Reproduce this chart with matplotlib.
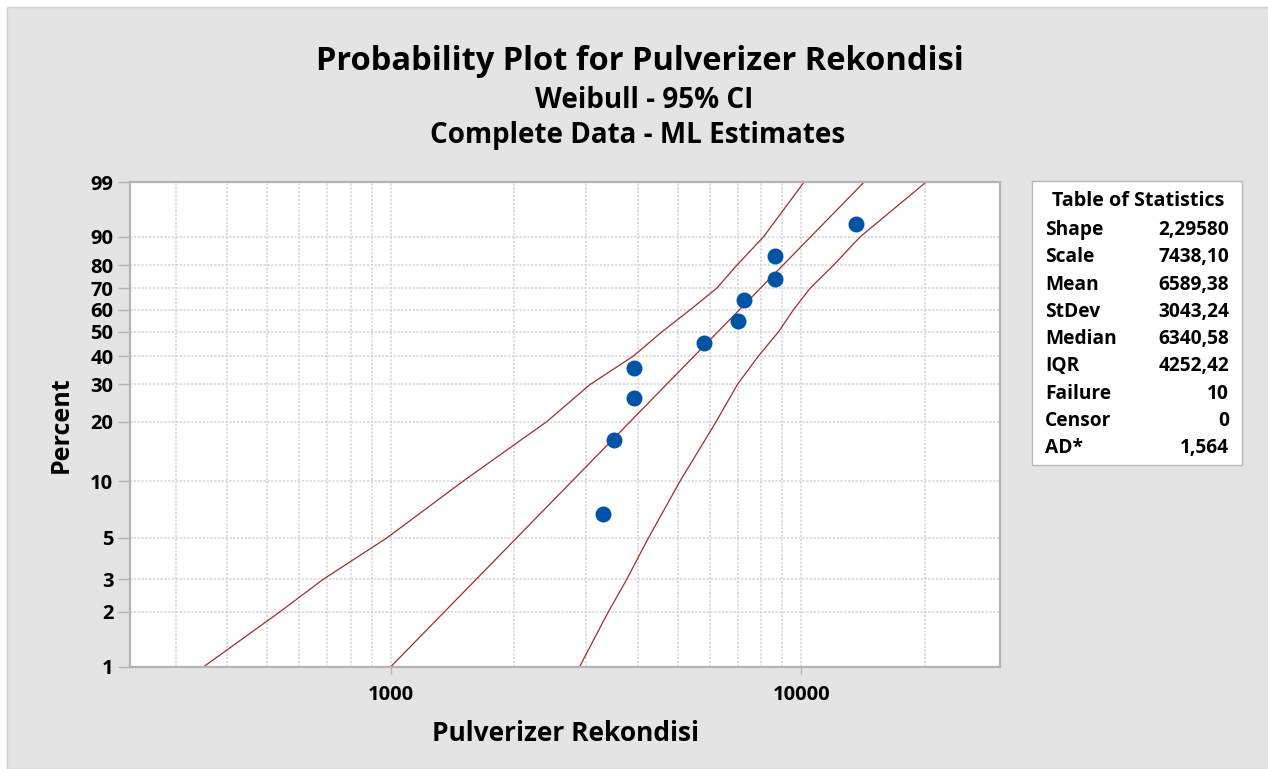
import numpy as np
import matplotlib
matplotlib.use("Agg")
import matplotlib.pyplot as plt
from matplotlib.patches import Rectangle
from matplotlib.ticker import FixedLocator, NullFormatter

# ──────────────────────────────────────────────
# Data
# ──────────────────────────────────────────────
# observed failures and their plotted percent (median ranks)
obs_x   = [3300, 3510, 3920, 3920, 5810, 7000, 7260, 8650, 8650, 13600]
obs_pct = [6.7, 16.3, 26.0, 35.6, 45.2, 54.8, 64.4, 74.0, 83.7, 93.3]

# fitted Weibull line (straight on this scale) - end points
fit_x   = [1000, 14240]
fit_pct = [1, 99]

# 95% confidence band, read at the percent grid lines
band_pct   = [1, 2, 3, 5, 10, 20, 30, 40, 50, 60, 70, 80, 90, 99]
band_left  = [350, 538, 686, 979, 1504, 2402, 3062, 3904, 4578, 5365,
              6232, 6972, 8096, 10170]
band_right = [2884, 3393, 3762, 4246, 5073, 6209, 6995, 7870, 8806, 9578,
              10517, 11988, 13921, 20160]

y_ticks   = [1, 2, 3, 5, 10, 20, 30, 40, 50, 60, 70, 80, 90, 99]
x_major   = [1000, 10000]
x_minor   = [300, 400, 500, 600, 700, 800, 900,
             2000, 3000, 4000, 5000, 6000, 7000, 8000, 9000, 20000]

stat_names  = ["Shape", "Scale", "Mean", "StDev", "Median", "IQR",
               "Failure", "Censor", "AD*"]
stat_values = ["2,29580", "7438,10", "6589,38", "3043,24", "6340,58",
               "4252,42", "10", "0", "1,564"]

# ──────────────────────────────────────────────
# Style
# ──────────────────────────────────────────────
BG      = "#e4e4e4"
LINE    = "#a52a2a"
DOT     = "#0054a6"
GRID    = "#d4d4d4"
SPINE   = "#b4b4b4"
plt.rcParams["font.family"] = ["Open Sans", "DejaVu Sans"]

W, H = 1268, 769


def weibull_fwd(p):
    p = np.clip(np.asarray(p, dtype=float), 1e-6, 100 - 1e-6)
    return np.log(-np.log(1 - p / 100.0))


def weibull_inv(z):
    return 100.0 * (1 - np.exp(-np.exp(np.asarray(z, dtype=float))))


fig = plt.figure(figsize=(W / 100, H / 100), dpi=100)
fig.patch.set_facecolor("white")
fig.patches.append(Rectangle((7 / W, 0), 1, 1 - 7 / H, transform=fig.transFigure,
                             facecolor=BG, edgecolor="#d0d0d0", linewidth=1,
                             zorder=-10))

ax = fig.add_axes([130 / W, 1 - 667 / H, 870 / W, 485 / H])
ax.set_facecolor("white")

ax.set_xscale("log")
ax.set_yscale("function", functions=(weibull_fwd, weibull_inv))
ax.set_xlim(232, 30500)
ax.set_ylim(1, 99)

# grid
ax.xaxis.set_major_locator(FixedLocator(x_major))
ax.xaxis.set_minor_locator(FixedLocator(x_minor))
ax.xaxis.set_minor_formatter(NullFormatter())
ax.set_xticklabels([str(v) for v in x_major])
ax.yaxis.set_major_locator(FixedLocator(y_ticks))
ax.yaxis.set_minor_locator(FixedLocator([]))
ax.set_yticklabels([str(v) for v in y_ticks])
ax.grid(True, which="both", color=GRID, linestyle=(0, (1.5, 1)), linewidth=1.1)
ax.set_axisbelow(True)

ax.tick_params(axis="x", which="major", length=5, width=1, color=SPINE,
               labelsize=14.5, pad=8)
ax.tick_params(axis="x", which="minor", length=0)
ax.tick_params(axis="y", length=9, width=1, color=SPINE, labelsize=14.5, pad=3)
for lbl in ax.get_xticklabels() + ax.get_yticklabels():
    lbl.set_fontweight("bold")
for side in ["left", "bottom", "top", "right"]:
    ax.spines[side].set_color(SPINE)
    ax.spines[side].set_linewidth(1.6)

# curves and points
ax.plot(band_left, band_pct, color=LINE, linewidth=0.9)
ax.plot(band_right, band_pct, color=LINE, linewidth=0.9)
ax.plot(fit_x, fit_pct, color=LINE, linewidth=0.9)
ax.plot(obs_x, obs_pct, linestyle="none", marker="o", markersize=11.5,
        color=DOT, markeredgewidth=0, zorder=5)

ax.set_xlabel("Pulverizer Rekondisi", fontsize=19, fontweight="bold", labelpad=11)
ax.set_ylabel("Percent", fontsize=18, fontweight="bold", labelpad=12)

# titles
fig.text(640 / W, 1 - 62 / H, "Probability Plot for Pulverizer Rekondisi",
         ha="center", va="center", fontsize=23.5, fontweight="bold")
fig.text(644 / W, 1 - 100 / H, "Weibull - 95% CI",
         ha="center", va="center", fontsize=20, fontweight="bold")
fig.text(638 / W, 1 - 135 / H, "Complete Data - ML Estimates",
         ha="center", va="center", fontsize=20, fontweight="bold")

# table of statistics
fig.patches.append(Rectangle((1032 / W, 1 - 465 / H), 210 / W, 284 / H,
                             transform=fig.transFigure, facecolor="white",
                             edgecolor="#b8b8b8", linewidth=1))
fig.text(1138 / W, 1 - 201 / H, "Table of Statistics", ha="center",
         va="center", fontsize=14.2, fontweight="bold")
for i, (name, val) in enumerate(zip(stat_names, stat_values)):
    yy = 1 - (230 + i * 27.3) / H
    fig.text(1045 / W, yy, name, ha="left", va="center", fontsize=13.8,
             fontweight="bold")
    fig.text(1229 / W, yy, val, ha="right", va="center", fontsize=13.8,
             fontweight="bold")

plt.savefig("out.png", dpi=100)
